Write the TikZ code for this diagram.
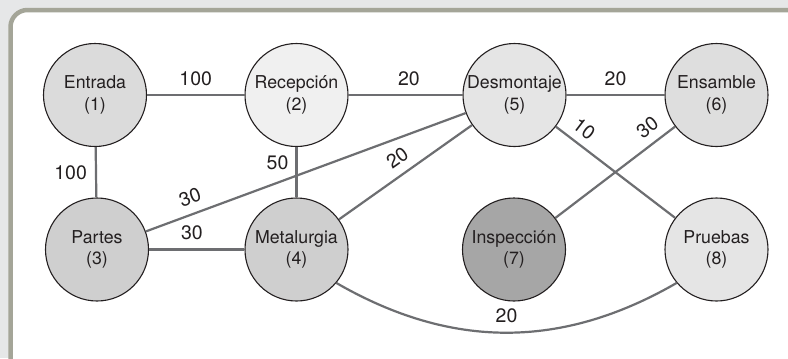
\documentclass[tikz,border=0pt]{standalone}
\usepackage{fontspec}
\setmainfont{TeX Gyre Heros}
\definecolor{fondo}{HTML}{E6E7E8}
\definecolor{marco}{HTML}{A4A598}
\definecolor{grislinea}{HTML}{6D6E71}
\definecolor{texto}{HTML}{231F20}
\tikzset{
	depto/.style = {circle, draw = texto, line width = 1.1bp, minimum size = 103bp, inner sep = 0pt, align = center, text = texto, font = \fontsize{17.75bp}{21.5bp}\selectfont},
	conexion/.style = {grislinea, line width = 2.2bp},
	peso/.style = {text = texto, inner sep = 2bp, font = \fontsize{19.5bp}{22bp}\selectfont},
}
\begin{document}
\begin{tikzpicture}[x = 1bp, y = -1bp]
		\useasboundingbox (0,0) rectangle (788,358);
		\clip (0,0) rectangle (788,358);
		\fill [fondo] (0,0) rectangle (788,358);
		\draw [marco, line width = 4.5bp, fill = white, rounded corners = 17bp] (10.5,10) rectangle (820,380);
		% departamentos
		\node [depto, fill = black!14] (entrada) at (95,95) {Entrada\\(1)};
		\node [depto, fill = black!6] (recepcion) at (296.5,95) {Recepción\\(2)};
		\node [depto, fill = black!10] (desmontaje) at (514.5,95) {Desmontaje\\(5)};
		\node [depto, fill = black!13] (ensamble) at (716.5,95) {Ensamble\\(6)};
		\node [depto, fill = black!19] (partes) at (97,249.5) {Partes\\(3)};
		\node [depto, fill = black!19] (metalurgia) at (296.5,249.5) {Metalurgia\\(4)};
		\node [depto, fill = black!35] (inspeccion) at (514,249.5) {Inspección\\(7)};
		\node [depto, fill = black!10] (pruebas) at (716.5,249.5) {Pruebas\\(8)};
		% conexiones
		\draw [conexion] (entrada) -- (recepcion) node [peso, midway, above = 6.5bp] {100};
		\draw [conexion] (recepcion) -- (desmontaje) node [peso, pos = 0.53, above = 6.5bp] {20};
		\draw [conexion] (desmontaje) -- (ensamble) node [peso, midway, above = 6.5bp] {20};
		\draw [conexion] (entrada) -- (partes) node [peso, midway, left = 6bp] {100};
		\draw [conexion] (recepcion) -- (metalurgia) node [peso, pos = 0.31, left = 5bp] {50};
		\draw [conexion] (partes) -- (metalurgia) node [peso, pos = 0.45, above = 6.5bp] {30};
		\draw [conexion] (partes) -- (desmontaje) node [peso, pos = 0.156, sloped, above = 6.5bp] {30};
		\draw [conexion] (metalurgia) -- (desmontaje) node [peso, pos = 0.51, sloped, above = 6.5bp] {20};
		\draw [conexion] (desmontaje) -- (pruebas) node [peso, pos = 0.16, sloped, above = 5bp] {10};
		\draw [conexion] (inspeccion) -- (ensamble) node [peso, pos = 0.85, sloped, above = 6bp] {30};
		\draw [conexion] (metalurgia.-40) to [out = -30, in = -150] node [peso, midway, above = 6.5bp] {20} (pruebas.-140);
\end{tikzpicture}
\end{document}
